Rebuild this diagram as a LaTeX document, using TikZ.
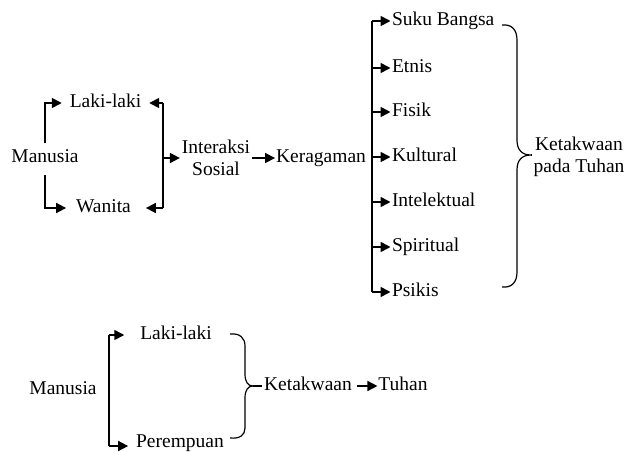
\documentclass[tikz,border=0pt]{standalone}
\usepackage{fontspec}
\setmainfont{Liberation Serif}
\usetikzlibrary{arrows.meta}
\begin{document}
\begin{tikzpicture}[x=1pt,y=-1pt,
  txt/.style={inner sep=0pt, outer sep=0pt, text height=12.5pt, text depth=3.5pt, font=\fontsize{19.5}{22}\selectfont},
  txt2/.style={inner sep=0pt, outer sep=0pt, align=center, font=\fontsize{19.5}{22}\selectfont},
  ln/.style={line width=1.6pt},
  arr/.style={ln, -{Triangle[length=10pt,width=10pt]}},
  brc/.style={line width=1.2pt}]
\useasboundingbox (0,0) rectangle (629,452);
% ---------- top diagram ----------
\node[txt] (m1) at (45,158) {Manusia};
\node[txt] (lk1) at (105.5,103) {Laki-laki};
\node[txt] (w1) at (103.5,208) {Wanita};
\node[txt2] (is) at (216,158) {Interaksi\\Sosial};
\node[txt] (ker) at (321,158) {Keragaman};
\node[txt, anchor=west] (sb) at (392,21) {Suku Bangsa};
\node[txt, anchor=west] (et) at (392,68) {Etnis};
\node[txt, anchor=west] (fi) at (392,112) {Fisik};
\node[txt, anchor=west] (ku) at (392,157) {Kultural};
\node[txt, anchor=west] (in) at (392,202) {Intelektual};
\node[txt, anchor=west] (sp) at (392,247) {Spiritual};
\node[txt, anchor=west] (ps) at (392,292) {Psikis};
\node[txt2] (kt) at (579,157) {Ketakwaan\\pada Tuhan};
\coordinate (br) at (163,158);
\coordinate (spn) at (372,158);
\draw[arr, shorten <=7pt, shorten >=8pt] (m1.north) |- (lk1.west);
\draw[arr, shorten <=9pt, shorten >=10pt] (m1.south) |- (w1.west);
\draw[ln] (br |- lk1) -- (br |- w1);
\draw[arr, shorten >=8pt] (br |- lk1) -- (lk1.east);
\draw[arr, shorten >=15pt] (br |- w1) -- (w1.east);
\draw[arr, shorten >=2pt] (br) -- (is.west);
\draw[arr, shorten <=2pt, shorten >=1pt] (is.east) -- (ker.west);
\draw[ln] (spn |- sb) -- (spn |- ps);
\foreach \n in {sb,et,fi,ku,in,sp,ps}{
  \draw[arr, shorten >=1.5pt] (spn |- \n) -- (\n.west);
}
\coordinate (bt1) at (502,25);
\coordinate (bt2) at (502,287);
\coordinate (btip) at (531,155);
\draw[brc] (bt1) .. controls (512,24) and (517,30) .. (517,40) -- (517,140)
  .. controls (517,150) and (522,155) .. (btip)
  .. controls (522,155) and (517,160) .. (517,170) -- (517,272)
  .. controls (517,282) and (512,288) .. (bt2);
\draw[brc] (btip) -- ([xshift=-3pt]kt.west |- btip);
% ---------- bottom diagram ----------
\node[txt] (m2) at (63,390) {Manusia};
\node[txt] (lk2) at (176,335) {Laki-laki};
\node[txt] (pr) at (180,443) {Perempuan};
\node[txt] (kt2) at (308,386) {Ketakwaan};
\node[txt] (tu) at (403,386) {Tuhan};
\coordinate (spn2) at (109,390);
\draw[ln] (spn2 |- lk2) -- ([yshift=-3pt]spn2 |- pr);
\draw[arr, shorten >=16pt] (spn2 |- lk2) -- (lk2.west);
\draw[arr, shorten >=8pt] ([yshift=-3pt]spn2 |- pr) -- ([yshift=-3pt]pr.west);
\coordinate (bb1) at (230,334);
\coordinate (bb2) at (230,438);
\coordinate (btip2) at (253,386);
\draw[brc] (bb1) .. controls (240,333) and (245,338) .. (245,346) -- (245,374)
  .. controls (245,382) and (248,386) .. (btip2)
  .. controls (248,386) and (245,390) .. (245,398) -- (245,428)
  .. controls (245,435) and (240,439) .. (bb2);
\draw[brc] (btip2) -- ([xshift=-2pt]kt2.west);
\draw[arr, shorten <=5pt, shorten >=1pt] (kt2.east) -- (tu.west);
\end{tikzpicture}
\end{document}
